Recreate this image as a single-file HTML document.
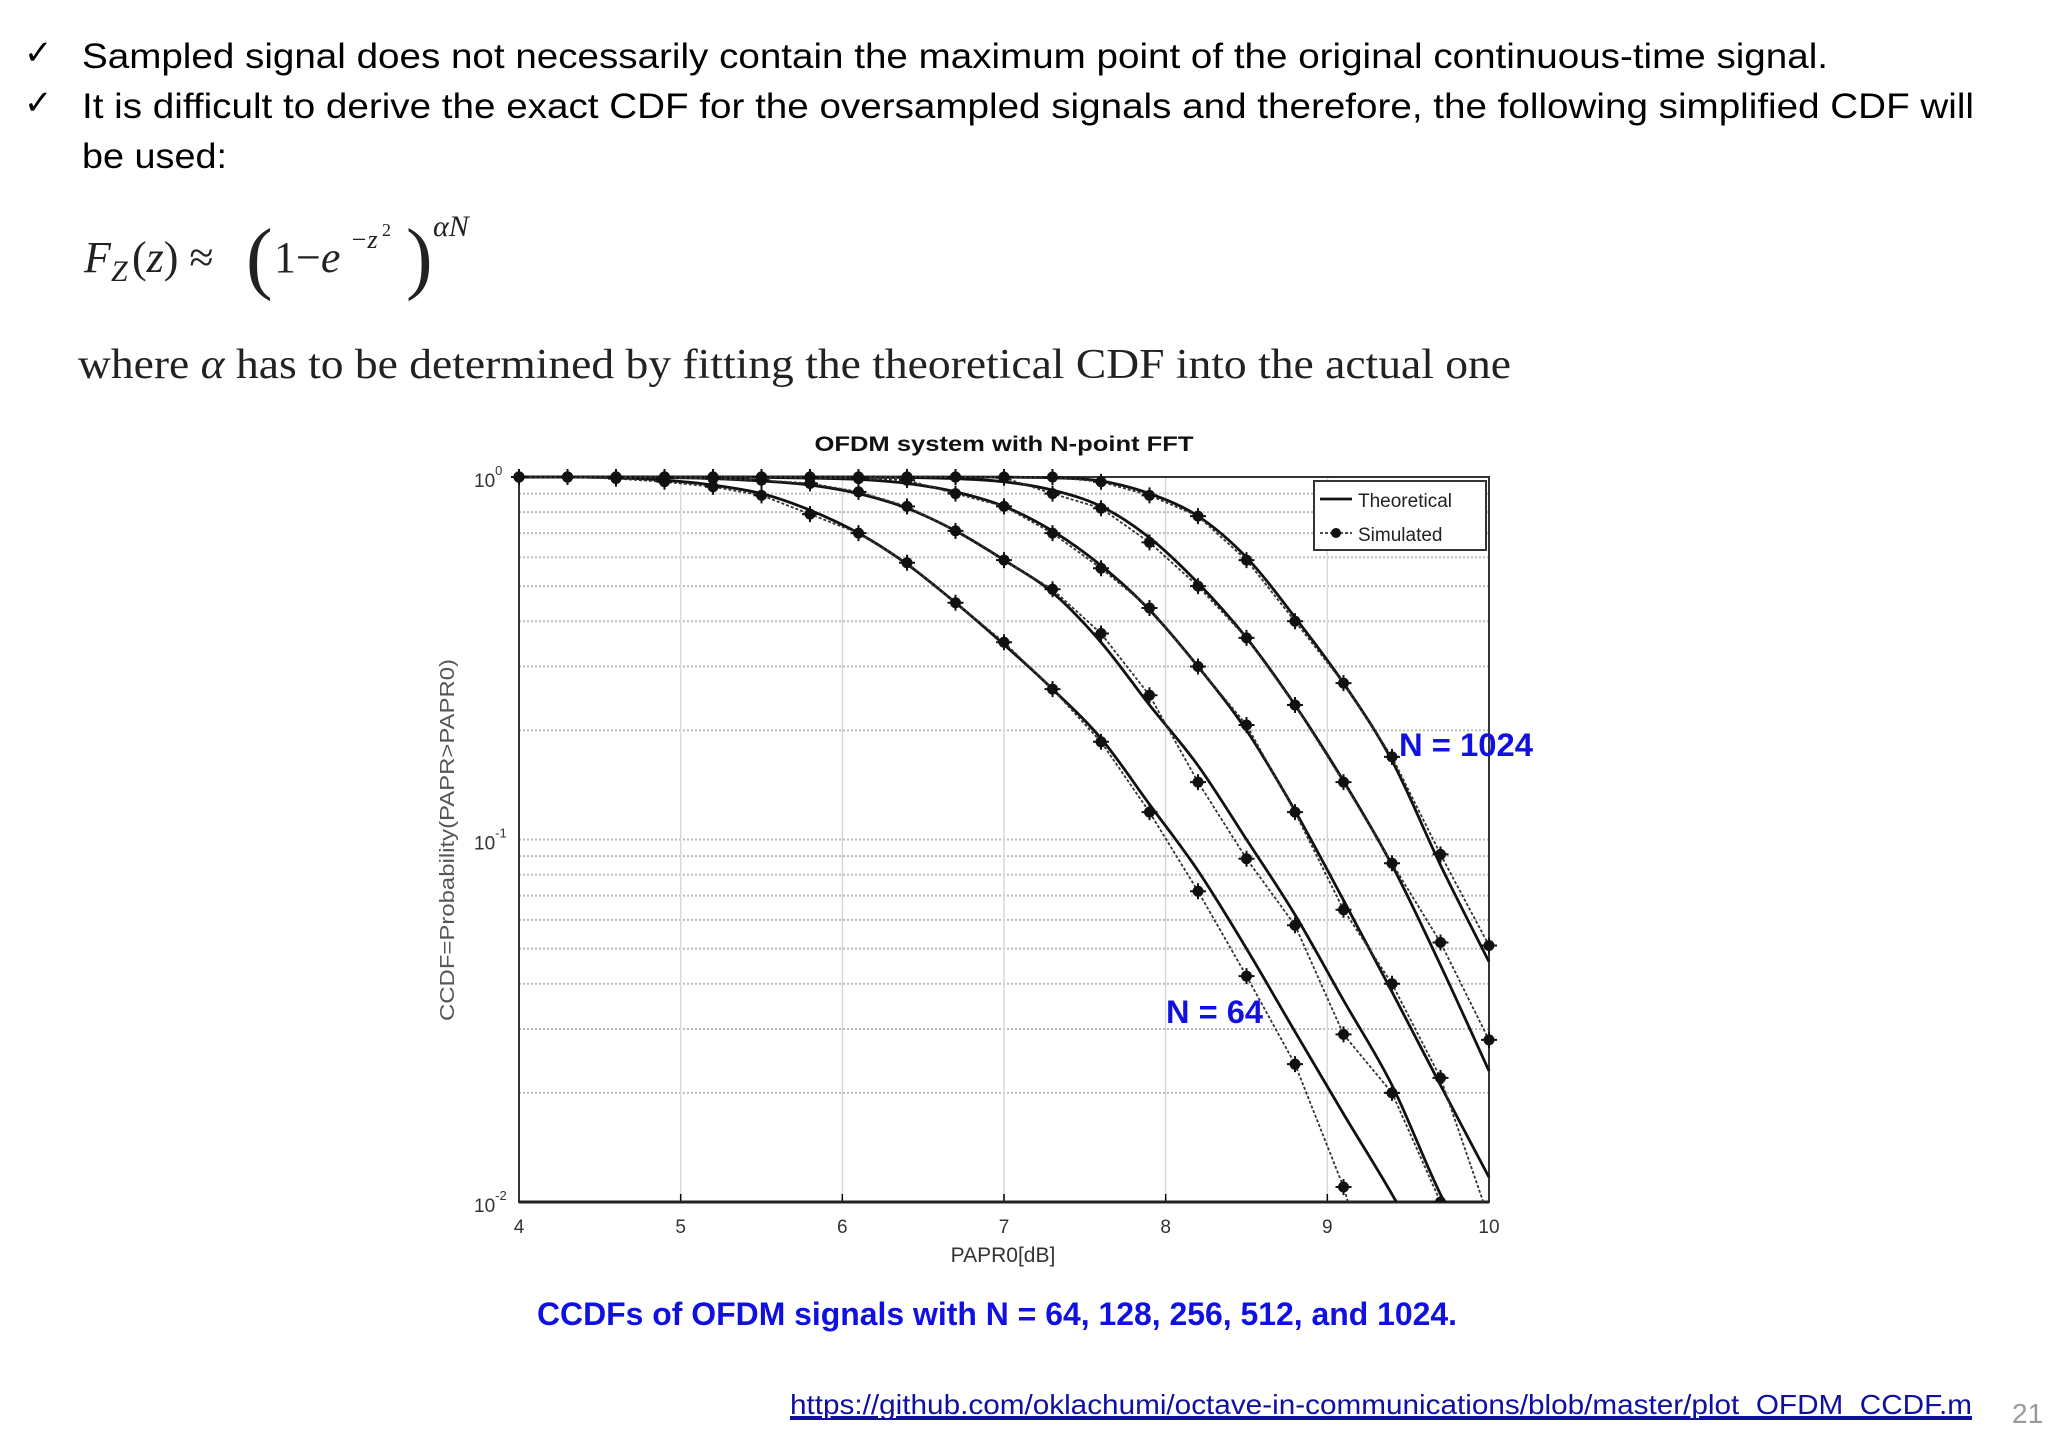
<!DOCTYPE html>
<html><head><meta charset="utf-8"><style>
body{margin:0;background:#fff;}
svg{display:block;}
</style></head><body>
<svg id="page" width="2048" height="1447" viewBox="0 0 2048 1447" xmlns="http://www.w3.org/2000/svg">
<rect x="0" y="0" width="2048" height="1447" fill="#fff"/>
<g font-family="'Liberation Sans', sans-serif" fill="#000">
  <text x="24" y="64" font-size="34">✓</text>
  <text x="82" y="68" font-size="35" textLength="1746" lengthAdjust="spacingAndGlyphs">Sampled signal does not necessarily contain the maximum point of the original continuous-time signal.</text>
  <text x="24" y="114" font-size="34">✓</text>
  <text x="82" y="118" font-size="35" textLength="1892" lengthAdjust="spacingAndGlyphs">It is difficult to derive the exact CDF for the oversampled signals and therefore, the following simplified CDF will</text>
  <text x="82" y="168" font-size="35" textLength="145" lengthAdjust="spacingAndGlyphs">be used:</text>
</g>
<g font-family="'Liberation Serif', serif" fill="#222">
  <text x="84" y="272" font-size="44" font-style="italic">F</text>
  <text x="111" y="281" font-size="30" font-style="italic">Z</text>
  <text x="132" y="272" font-size="44">(<tspan font-style="italic">z</tspan>) ≈</text>
  <text x="246" y="284" font-size="80" font-weight="100">(</text>
  <text x="274" y="272" font-size="44">1−<tspan font-style="italic">e</tspan></text>
  <text x="350" y="248" font-size="26" font-style="italic">−z</text>
  <text x="382" y="236" font-size="18">2</text>
  <text x="406" y="284" font-size="80" font-weight="100">)</text>
  <text x="433" y="236" font-size="30" font-style="italic">αN</text>
</g>
<text x="78" y="378" font-family="'Liberation Serif', serif" font-size="42" fill="#222" textLength="1433" lengthAdjust="spacingAndGlyphs">where <tspan font-style="italic">α</tspan> has to be determined by fitting the theoretical CDF into the actual one</text>

<g id="chart"></g>

<text x="997" y="1325" text-anchor="middle" font-family="'Liberation Sans', sans-serif" font-weight="bold" font-size="32" fill="#1010e0" textLength="920" lengthAdjust="spacingAndGlyphs">CCDFs of OFDM signals with N = 64, 128, 256, 512, and 1024.</text>
<text x="790" y="1414" font-family="'Liberation Sans', sans-serif" font-size="28" fill="#1010a0" text-decoration="underline" textLength="1182" lengthAdjust="spacingAndGlyphs">https://github.com/oklachumi/octave-in-communications/blob/master/plot_OFDM_CCDF.m</text>
<line x1="790" y1="1419" x2="1972" y2="1419" stroke="#1010a0" stroke-width="2"/>
<text x="2012" y="1423" font-family="'Liberation Sans', sans-serif" font-size="28" fill="#999">21</text>
</svg>
<script>
const xs = [4,4.3,4.6,4.9,5.2,5.5,5.8,6.1,6.4,6.7,7.0,7.3,7.6,7.9,8.2,8.5,8.8,9.1,9.4,9.7,10];
const seriesNames = ['N64','N128','N256','N512','N1024'];
const sim64   = [1,1,0.99,0.97,0.94,0.89,0.79,0.70,0.58,0.45,0.35,0.26,0.186,0.119,0.072,0.042,0.024,0.011,0.004];
const sim128  = [1,1,1,0.995,0.99,0.98,0.96,0.91,0.83,0.71,0.59,0.49,0.37,0.25,0.144,0.0885,0.058,0.029,0.020,0.010,0.005];
const sim256  = [1,1,1,1,1,1,0.995,0.99,0.98,0.90,0.83,0.70,0.56,0.435,0.30,0.207,0.119,0.064,0.040,0.022,0.009];
const sim512  = [1,1,1,1,1,1,1,1,1,1,0.995,0.90,0.82,0.66,0.50,0.36,0.235,0.144,0.086,0.052,0.028];
const sim1024 = [1,1,1,1,1,1,1,1,1,1,1,1,0.97,0.89,0.78,0.59,0.40,0.27,0.169,0.091,0.051];
const th64   = [1,1,0.995,0.98,0.95,0.90,0.81,0.70,0.575,0.45,0.345,0.26,0.19,0.125,0.082,0.05,0.0295,0.0175,0.0105,0.006];
const th128  = [1,1,1,0.997,0.99,0.975,0.95,0.90,0.82,0.71,0.59,0.48,0.35,0.235,0.16,0.10,0.062,0.036,0.021,0.0105,0.006];
const th256  = [1,1,1,1,1,0.998,0.993,0.985,0.96,0.91,0.83,0.71,0.57,0.43,0.30,0.20,0.12,0.068,0.038,0.021,0.0117];
const th512  = [1,1,1,1,1,1,1,0.999,0.997,0.99,0.97,0.92,0.83,0.68,0.51,0.36,0.235,0.145,0.085,0.045,0.023];
const th1024 = [1,1,1,1,1,1,1,1,1,1,0.999,0.995,0.975,0.90,0.78,0.60,0.41,0.27,0.165,0.085,0.046];
const xTicks = [4,5,6,7,8,9,10];
const yDecades = [0,-1,-2];

const NS='http://www.w3.org/2000/svg';
const L=519, R=1489, T=477, B=1202;
const X = v => L + (v-4)/6*(R-L);
const Y = v => T + (-Math.log10(v))/2*(B-T);
const g=document.getElementById('chart');
function mk(tag, attrs, parent){const e=document.createElementNS(NS,tag);for(const k in attrs)e.setAttribute(k,attrs[k]);(parent||g).appendChild(e);return e;}

for (let d=0; d>-2; d--) {
  for (let m=1; m<10; m++) {
    const val=m*Math.pow(10,d-1);
    if (val<0.01||val>1) continue;
    const y=Y(val);
    const ln=mk('line',{x1:L,x2:R,y1:y,y2:y,stroke:'#bbb','stroke-width':2,'stroke-dasharray':'2,2'});
    
    
  }
}
xTicks.forEach(t=>{
  const x=X(t);
  const ln=mk('line',{x1:x,x2:x,y1:T,y2:B,stroke:'#d8d8d8','stroke-width':1.5});
  
  
  const tk=mk('line',{x1:x,x2:x,y1:B,y2:B-8,stroke:'#000','stroke-width':1.5});
  
  
  const lb=mk('text',{x:x,y:1233,'text-anchor':'middle','font-family':"'Liberation Sans', sans-serif",'font-size':19,fill:'#333'});
  lb.textContent=t;
  
  
});
yDecades.forEach(d=>{
  const y=Y(Math.pow(10,d));
  const lb=mk('text',{x:474,y:y+10,'font-family':"'Liberation Sans', sans-serif",'font-size':19,fill:'#333'});
  lb.textContent='10';
  
  
  const sp=mk('tspan',{dy:-12,'font-size':13});
  sp.textContent=String(d); lb.appendChild(sp);
});
const box=mk('rect',{x:L,y:T,width:R-L,height:B-T,fill:'none',stroke:'#333','stroke-width':2});


const bx=mk('line',{x1:L,x2:R,y1:B,y2:B,stroke:'#222','stroke-width':3});



const defs=mk('defs',{});
const cp=mk('clipPath',{id:'pc'},defs);
mk('rect',{x:L-8,y:T-10,width:R-L+16,height:B-T+10},cp);
const plot=mk('g',{'clip-path':'url(#pc)'});

function smoothPath(pts){
  let d='M'+pts[0][0]+','+pts[0][1];
  for(let i=0;i<pts.length-1;i++){
    const p0=pts[i-1]||pts[i],p1=pts[i],p2=pts[i+1],p3=pts[i+2]||p2;
    const c1=[p1[0]+(p2[0]-p0[0])/6,p1[1]+(p2[1]-p0[1])/6];
    const c2=[p2[0]-(p3[0]-p1[0])/6,p2[1]-(p3[1]-p1[1])/6];
    d+=' C'+c1[0]+','+c1[1]+' '+c2[0]+','+c2[1]+' '+p2[0]+','+p2[1];
  }
  return d;
}
const theo=[th64,th128,th256,th512,th1024];
const sims=[sim64,sim128,sim256,sim512,sim1024];
theo.forEach((arr,i)=>{
  const pts=arr.map((v,j)=>[X(xs[j]),Y(v)]);
  const p=mk('path',{d:smoothPath(pts),fill:'none',stroke:'#111','stroke-width':2.8},plot);
  
  
});
sims.forEach((arr,i)=>{
  const pts=arr.map((v,j)=>[X(xs[j]),Y(v)]);
  const p=mk('polyline',{points:pts.map(q=>q.join(',')).join(' '),fill:'none',stroke:'#333','stroke-width':1.8,'stroke-dasharray':'3,2'},plot);
  
  
  pts.forEach(q=>{
    const c=mk('circle',{cx:q[0],cy:q[1],r:5.5,fill:'#111'},plot);
    
    
    mk('path',{d:`M${q[0]-8},${q[1]}h16M${q[0]},${q[1]-8}v16`,stroke:'#111','stroke-width':2},plot);
  });
});

const lg=mk('g',{});


mk('rect',{x:1314,y:481,width:172,height:69,fill:'#fff',stroke:'#333','stroke-width':2},lg);
mk('line',{x1:1320,x2:1352,y1:499,y2:499,stroke:'#111','stroke-width':2.8},lg);
const l1=mk('text',{x:1358,y:507,'font-family':"'Liberation Sans', sans-serif",'font-size':19,fill:'#222'},lg);
l1.textContent='Theoretical';


mk('line',{x1:1320,x2:1352,y1:533,y2:533,stroke:'#333','stroke-width':1.8,'stroke-dasharray':'3,2'},lg);
mk('circle',{cx:1336,cy:533,r:5,fill:'#111'},lg);
const l2=mk('text',{x:1358,y:541,'font-family':"'Liberation Sans', sans-serif",'font-size':19,fill:'#222'},lg);
l2.textContent='Simulated';



const tt=mk('text',{x:1004,y:451,'text-anchor':'middle','font-family':"'Liberation Sans', sans-serif",'font-weight':'bold','font-size':21,fill:'#111',textLength:379,lengthAdjust:'spacingAndGlyphs'});
tt.textContent='OFDM system with N-point FFT';


const xt=mk('text',{x:1003,y:1262,'text-anchor':'middle','font-family':"'Liberation Sans', sans-serif",'font-size':21,fill:'#333'});
xt.textContent='PAPR0[dB]';


const yt=mk('text',{x:0,y:0,'text-anchor':'middle','font-family':"'Liberation Sans', sans-serif",'font-size':20,fill:'#555',transform:'translate(454,840) rotate(-90)',textLength:362,lengthAdjust:'spacingAndGlyphs'});
yt.textContent='CCDF=Probability(PAPR>PAPR0)';


const a1=mk('text',{x:1399,y:756,'font-family':"'Liberation Sans', sans-serif",'font-weight':'bold','font-size':32,fill:'#1010e0',textLength:134,lengthAdjust:'spacingAndGlyphs'});
a1.textContent='N = 1024';


const a2=mk('text',{x:1166,y:1023,'font-family':"'Liberation Sans', sans-serif",'font-weight':'bold','font-size':32,fill:'#1010e0',textLength:97,lengthAdjust:'spacingAndGlyphs'});
a2.textContent='N = 64';


</script>
</body></html>
